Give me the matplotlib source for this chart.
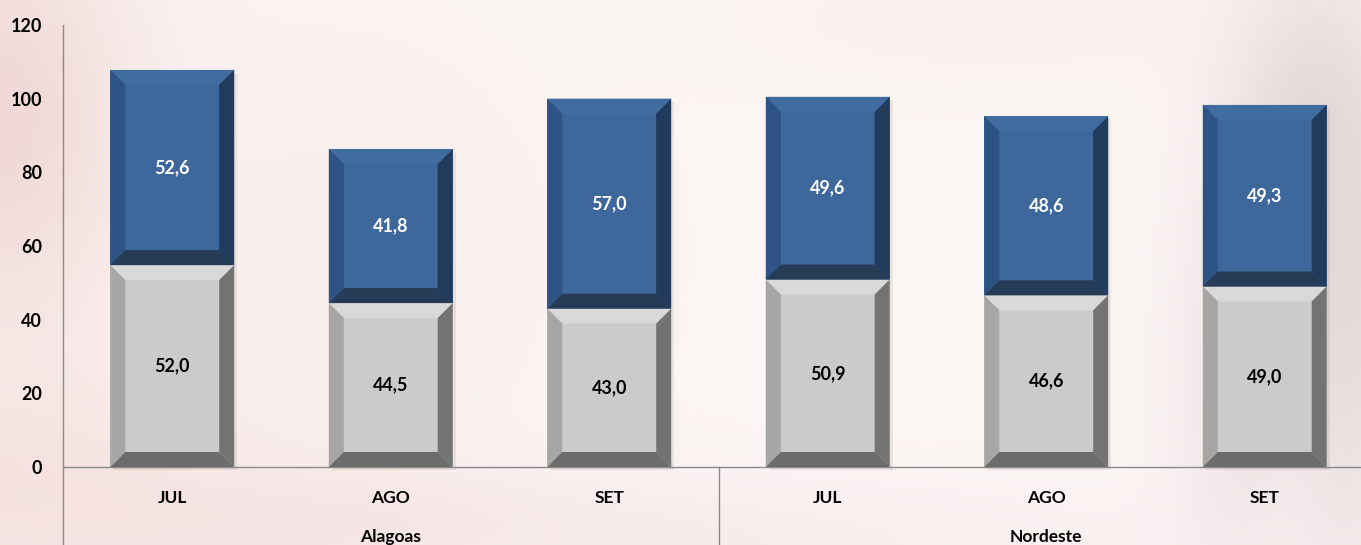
import numpy as np
import matplotlib
matplotlib.use("Agg")
import matplotlib.pyplot as plt
from matplotlib.patches import Polygon, Rectangle
from matplotlib.lines import Line2D

plt.rcParams['font.family'] = ['Lato', 'DejaVu Sans']
plt.rcParams['font.weight'] = 'bold'

# ---- data ----
regions = ["Alagoas", "Nordeste"]
months = ["JUL", "AGO", "SET", "JUL", "AGO", "SET"]
gray_heights = [54.8, 44.5, 43.0, 50.9, 46.6, 49.0]
blue_heights = [53.0, 41.8, 57.0, 49.6, 48.6, 49.3]
gray_labels = ["52,0", "44,5", "43,0", "50,9", "46,6", "49,0"]
blue_labels = ["52,6", "41,8", "57,0", "49,6", "48,6", "49,3"]
yticks = [0, 20, 40, 60, 80, 100, 120]

W, H, DPI = 1361, 545, 100
fig = plt.figure(figsize=(W / DPI, H / DPI), dpi=DPI)

# ---- soft photographic background ----
bg_ax = fig.add_axes([0, 0, 1, 1], zorder=-10)
yy, xx = np.mgrid[0:H, 0:W].astype(float)
base = np.array([0.985, 0.962, 0.958])
img = np.ones((H, W, 3)) * base

def blob(cx, cy, sx, sy, col, strength):
    g = np.exp(-(((xx - cx) / sx) ** 2 + ((yy - cy) / sy) ** 2))[..., None]
    return g * strength * (np.array(col) - img)

img += blob(0, 120, 140, 220, [0.93, 0.82, 0.81], 0.8)
img += blob(0, 480, 260, 130, [0.95, 0.85, 0.84], 0.6)
img += blob(300, 520, 300, 60, [0.95, 0.86, 0.86], 0.6)
img += blob(330, 250, 200, 200, [0.97, 0.90, 0.89], 0.5)
img += blob(700, 545, 400, 60, [0.96, 0.90, 0.90], 0.5)
img += blob(1300, 120, 80, 160, [0.88, 0.82, 0.82], 0.7)
img += blob(1240, 380, 70, 200, [0.90, 0.86, 0.86], 0.6)
img += blob(1350, 300, 60, 260, [0.85, 0.80, 0.80], 0.6)
img += blob(1000, 20, 250, 60, [0.97, 0.93, 0.92], 0.5)
img = np.clip(img, 0, 1)
bg_ax.imshow(img, aspect='auto', extent=(0, W, H, 0))
bg_ax.set_axis_off()

# ---- main axes ----
ax_left, ax_right = 63, 1374
ax_top, ax_bottom = 25, 467
ax = fig.add_axes([ax_left / W, (H - ax_bottom) / H,
                   (ax_right - ax_left) / W, (ax_bottom - ax_top) / H])
ax.patch.set_alpha(0)
x = np.arange(len(months))
ax.set_xlim(-0.5, len(months) - 0.5)
ax.set_ylim(0, 120)

bar_w = 0.567
gray_face = "#cbcbcb"
blue_face = "#3e689b"

gray_bars = ax.bar(x, gray_heights, width=bar_w, color=gray_face, zorder=3)
blue_bars = ax.bar(x, blue_heights, width=bar_w, bottom=gray_heights,
                   color=blue_face, zorder=3)

# bevel size in data units
bev_px = 15
dx = bev_px * (len(months)) / (ax_right - ax_left)
dy = bev_px * 120 / (ax_bottom - ax_top)
sh_dx = 3 * (len(months)) / (ax_right - ax_left)
sh_dy = 3 * 120 / (ax_bottom - ax_top)

def bevel(patch, cols):
    x0, y0 = patch.get_x(), patch.get_y()
    x1, y1 = x0 + patch.get_width(), y0 + patch.get_height()
    ix0, ix1, iy0, iy1 = x0 + dx, x1 - dx, y0 + dy, y1 - dy
    top, left, right, bottom = cols
    ax.add_patch(Polygon([(x0, y1), (x1, y1), (ix1, iy1), (ix0, iy1)],
                         closed=True, color=top, lw=0, zorder=4))
    ax.add_patch(Polygon([(x0, y0), (x0, y1), (ix0, iy1), (ix0, iy0)],
                         closed=True, color=left, lw=0, zorder=4))
    ax.add_patch(Polygon([(x1, y0), (x1, y1), (ix1, iy1), (ix1, iy0)],
                         closed=True, color=right, lw=0, zorder=4))
    ax.add_patch(Polygon([(x0, y0), (x1, y0), (ix1, iy0), (ix0, iy0)],
                         closed=True, color=bottom, lw=0, zorder=4))

for gp, bp in zip(gray_bars, blue_bars):
    x0 = gp.get_x()
    ax.add_patch(Rectangle((x0 + sh_dx, -sh_dy), gp.get_width(),
                           gp.get_height() + bp.get_height(),
                           color="black", alpha=0.07, lw=0, zorder=2, clip_on=False))
    bevel(gp, ["#d9d9d9", "#a6a6a6", "#737373", "#6c6c6c"])
    bevel(bp, ["#406c9f", "#2e5384", "#223a5b", "#253b56"])

for gp, bp, gl, bl in zip(gray_bars, blue_bars, gray_labels, blue_labels):
    cx = gp.get_x() + gp.get_width() / 2
    ax.text(cx, gp.get_y() + gp.get_height() / 2, gl, ha='center', va='center',
            fontsize=13, fontweight='bold', color='black', zorder=6)
    ax.text(cx, bp.get_y() + bp.get_height() / 2, bl, ha='center', va='center',
            fontsize=13, fontweight='bold', color='white', zorder=6)

# axes styling
for s in ['top', 'right']:
    ax.spines[s].set_visible(False)
ax.spines['left'].set_color('#8a8a8a')
ax.spines['bottom'].set_color('#8a8a8a')
ax.spines['left'].set_linewidth(1.0)
ax.spines['bottom'].set_linewidth(1.0)
ax.set_yticks(yticks)
ax.set_yticklabels([str(v) for v in yticks], fontsize=13, fontweight='bold')
ax.tick_params(axis='y', length=0, pad=15)
ax.set_xticks([])

# category labels and group labels
ax_h = ax_bottom - ax_top
for xi, m in zip(x, months):
    ax.text(xi, -31 / ax_h * 120, m, ha='center', va='center', fontsize=12.5,
            fontweight='bold', clip_on=False)
n_per = len(months) // len(regions)
for gi, r in enumerate(regions):
    cx = gi * n_per + (n_per - 1) / 2
    ax.text(cx, -70 / ax_h * 120, r, ha='center', va='center', fontsize=12.5,
            fontweight='bold', clip_on=False)

# group separators
for gi in range(len(regions) + 1):
    xs = gi * n_per - 0.5
    ax.add_line(Line2D([xs, xs], [0, -85 / ax_h * 120], color='#8a8a8a',
                       lw=1.0, clip_on=False))

fig.savefig("out.png", dpi=DPI)
